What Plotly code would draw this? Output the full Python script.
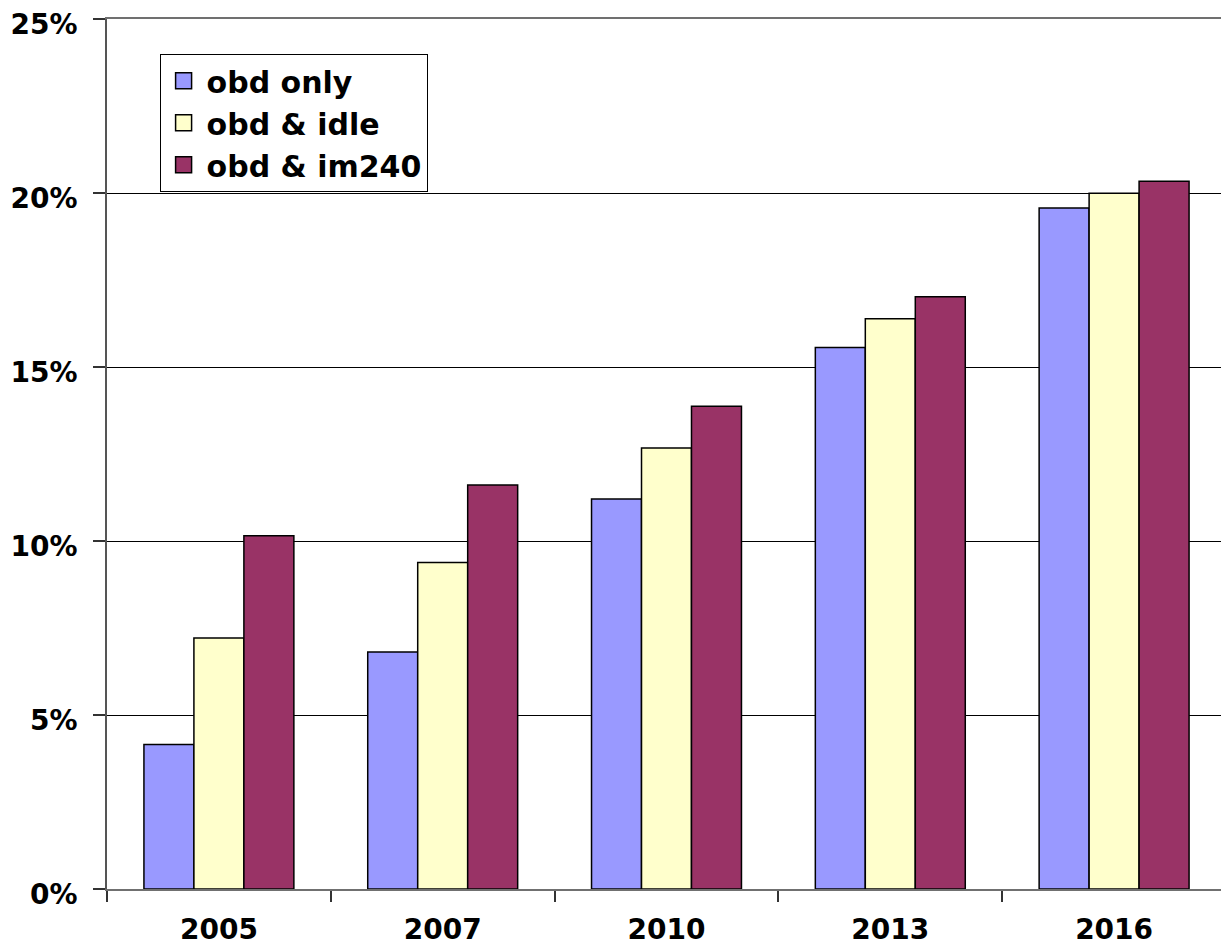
import plotly.graph_objects as go

years = ["2005", "2007", "2010", "2013", "2016"]
obd_only = [4.15, 6.81, 11.21, 15.56, 19.57]
obd_idle = [7.21, 9.38, 12.67, 16.39, 19.99]
obd_im240 = [10.15, 11.61, 13.87, 17.02, 20.34]

series_names = ["obd only", "obd & idle", "obd & im240"]
series_colors = ["#9999FF", "#FFFFCC", "#993366"]
y_ticks = [0, 5, 10, 15, 20, 25]
y_tick_labels = ["0%", "5%", "10%", "15%", "20%", "25%"]

fig = go.Figure()
for name, vals, col in zip(series_names, [obd_only, obd_idle, obd_im240], series_colors):
    fig.add_trace(go.Bar(
        x=years, y=vals, name=name, showlegend=False,
        marker=dict(color=col, line=dict(color="#000000", width=1.5)),
    ))
# legend-only entries with larger square swatches
for name, col in zip(series_names, series_colors):
    fig.add_trace(go.Scatter(
        x=[None], y=[None], mode="markers", name=name,
        marker=dict(symbol="square", size=24, color=col, line=dict(color="#000000", width=1.5)),
    ))

font_family = "DejaVu Sans, Arial, sans-serif"

fig.update_layout(
    width=1229, height=952,
    margin=dict(l=99, r=11, t=11, b=71, autoexpand=False),
    paper_bgcolor="white", plot_bgcolor="white",
    barmode="group", bargap=0.33, bargroupgap=0,
    font=dict(family=font_family, size=26, color="black"),
    showlegend=True,
    legend=dict(
        x=0.047, y=0.96, xanchor="left", yanchor="top",
        bordercolor="#000000", borderwidth=1, bgcolor="white",
        font=dict(family=font_family, size=30, color="black", weight="bold"),
        tracegroupgap=0, itemsizing="trace", itemwidth=36,
    ),
    xaxis=dict(
        type="category", automargin=False,
        showline=True, mirror=True, linecolor="#707070", linewidth=1.5,
        ticks="outside", tickson="boundaries", ticklen=11, tickcolor="#333333", tickwidth=1.5,
        ticklabelstandoff=15,
        tickfont=dict(family=font_family, size=28, color="black", weight="bold"),
        showgrid=False, zeroline=False,
    ),
    yaxis=dict(
        range=[0, 25], tickvals=y_ticks, ticktext=y_tick_labels, automargin=False,
        showline=True, mirror=True, linecolor="#555555", linewidth=1.5,
        ticks="outside", ticklen=12, tickcolor="#333333", tickwidth=1.5,
        ticklabelstandoff=10, ticklabelshift=5, ticklabeloverflow="allow",
        tickfont=dict(family=font_family, size=28, color="black", weight="bold"),
        showgrid=True, gridcolor="#000000", gridwidth=1, zeroline=False,
    ),
)

fig.write_html("out.html")
